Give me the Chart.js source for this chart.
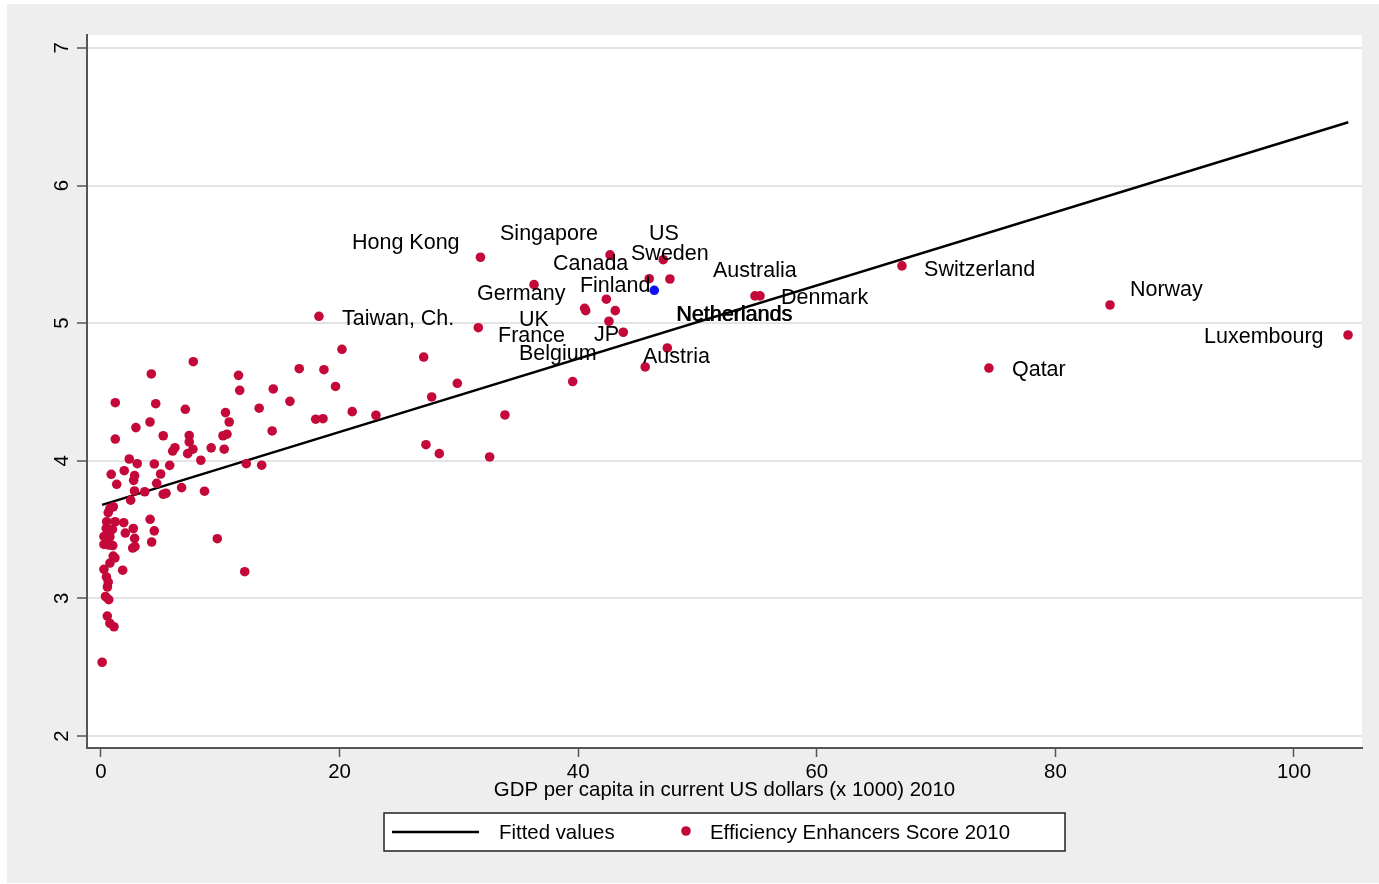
<!DOCTYPE html>
<html>
<head>
<meta charset="utf-8">
<script src="https://cdn.jsdelivr.net/npm/chart.js@4.4.1/dist/chart.umd.min.js"></script>
<style>
  html, body { margin: 0; padding: 0; background: #fff; }
  canvas { display: block; }
</style>
</head>
<body>
<canvas id="chart" width="1379" height="884"></canvas>
<script>
// GDP per capita (x 1000 US$, 2010) and Efficiency Enhancers score
const gdp = [
  31.81, 42.67, 47.13, 47.69, 45.96, 36.30, 42.36, 40.54, 40.63, 43.11,
  42.58, 43.78, 31.63, 47.47, 45.62, 39.54, 54.82, 55.24, 67.14, 74.43,
  84.58, 104.53, 18.27, 27.05, 29.87, 27.72, 27.24, 28.36, 32.58, 33.86,
  20.20, 16.62, 18.69, 19.66, 15.84, 18.00, 18.61, 21.06, 23.05, 14.44,
  14.35, 12.18, 13.47, 12.05, 9.75, 7.74, 4.22, 11.53, 11.63, 1.20,
  4.59, 7.07, 10.44, 13.26, 10.75, 4.11, 2.93, 5.22, 7.40, 1.20,
  7.40, 10.23, 10.56, 6.20, 6.01, 7.71, 7.27, 9.24, 10.33, 2.37,
  3.04, 4.47, 5.76, 8.37, 1.95, 0.86, 5.00, 2.82, 2.74, 1.32,
  4.67, 6.76, 8.68, 2.81, 3.67, 5.22, 5.45, 2.49, 0.75, 0.61,
  1.03, 0.48, 1.19, 1.91, 4.12, 0.44, 0.96, 2.71, 4.47, 2.04,
  0.25, 0.75, 2.82, 4.25, 0.25, 0.65, 0.99, 2.85, 2.66, 1.03,
  0.75, 0.25, 1.82, 0.46, 0.61, 0.54, 0.38, 0.65, 0.53, 0.75,
  1.09, 0.10, 1.17
];
const score = [
  5.479, 5.496, 5.461, 5.321, 5.323, 5.280, 5.174, 5.108, 5.091, 5.091,
  5.014, 4.934, 4.967, 4.820, 4.682, 4.576, 5.198, 5.198, 5.416, 4.674,
  5.132, 4.914, 5.050, 4.754, 4.563, 4.464, 4.117, 4.052, 4.028, 4.333,
  4.810, 4.669, 4.662, 4.540, 4.432, 4.302, 4.306, 4.357, 4.331, 4.522,
  4.217, 3.979, 3.968, 3.194, 3.434, 4.720, 4.631, 4.621, 4.512, 4.422,
  4.415, 4.374, 4.350, 4.382, 4.282, 4.282, 4.241, 4.182, 4.184, 4.158,
  4.137, 4.182, 4.193, 4.095, 4.071, 4.084, 4.052, 4.094, 4.084, 4.013,
  3.979, 3.977, 3.967, 4.004, 3.928, 3.902, 3.904, 3.892, 3.858, 3.829,
  3.836, 3.805, 3.779, 3.781, 3.775, 3.757, 3.764, 3.714, 3.653, 3.623,
  3.666, 3.557, 3.557, 3.550, 3.575, 3.509, 3.501, 3.508, 3.491, 3.475,
  3.450, 3.448, 3.437, 3.410, 3.392, 3.388, 3.384, 3.376, 3.366, 3.308,
  3.257, 3.211, 3.205, 3.156, 3.119, 3.083, 3.014, 2.991, 2.872, 2.819,
  2.794, 2.536, 3.294
];

// the one highlighted (blue) country
const highlightGdp = [46.38];
const highlightScore = [5.239];

// fitted regression line end points
const fitGdp = [0.10, 104.55];
const fitScore = [3.68, 6.46];

// country labels (left edge of text, middle of text) in data units
const labelNames = ['Hong Kong', 'Singapore', 'US', 'Sweden', 'Canada', 'Australia', 'Switzerland',
  'Finland', 'Germany', 'Denmark', 'Norway', 'Netherlands', 'Taiwan, Ch.', 'UK', 'France', 'JP',
  'Luxembourg', 'Belgium', 'Austria', 'Qatar'];
const labelGdp = [21.04, 33.45, 45.93, 44.43, 37.89, 51.30, 68.99, 40.15, 31.52, 57.00,
  86.25, 48.20, 20.20, 35.04, 33.28, 41.32, 92.46, 35.04, 45.43, 76.36];
const labelScore = [5.597, 5.663, 5.663, 5.517, 5.445, 5.394, 5.401, 5.285, 5.227, 5.198,
  5.256, 5.074, 5.045, 5.038, 4.922, 4.929, 4.914, 4.791, 4.769, 4.674];

const xTicks = [0, 20, 40, 60, 80, 100];
const yTicks = [2, 3, 4, 5, 6, 7];

const FONT = '"Liberation Sans", Arial, Helvetica, sans-serif';
const RED = '#c4083a';
const BLUE = '#1010f0';
const AXIS = '#555555';

const stataPlugin = {
  id: 'stata',
  beforeDraw(chart) {
    const { ctx, chartArea: a } = chart;
    ctx.save();
    ctx.fillStyle = '#eeeeee';
    ctx.fillRect(7, 4, chart.width - 7, 879);
    ctx.fillStyle = '#ffffff';
    ctx.fillRect(a.left, a.top, a.right - a.left, a.bottom - a.top);
    ctx.restore();
  },
  afterDraw(chart) {
    const { ctx } = chart;
    const xs = chart.scales.x, ys = chart.scales.y;
    ctx.save();
    ctx.fillStyle = '#000';

    // vertical y tick labels (read bottom to top)
    ctx.font = '20.4px ' + FONT;
    ctx.textAlign = 'center';
    ctx.textBaseline = 'alphabetic';
    yTicks.forEach(v => {
      ctx.save();
      ctx.translate(61, ys.getPixelForValue(v));
      ctx.rotate(-Math.PI / 2);
      ctx.fillText(String(v), 0, 7.3);
      ctx.restore();
    });

    // country labels
    ctx.font = '21.5px ' + FONT;
    ctx.textAlign = 'left';
    labelNames.forEach((name, i) => {
      const px = xs.getPixelForValue(labelGdp[i]);
      const py = ys.getPixelForValue(labelScore[i]) + 7.6;
      ctx.fillText(name, px, py);
      if (name === 'Netherlands') ctx.fillText(name, px + 0.8, py);
    });

    // legend box
    const fit = chart.data.datasets.find(d => d.id === 'fit');
    const pts = chart.data.datasets.find(d => d.id === 'pts');
    ctx.fillStyle = '#fff';
    ctx.fillRect(384, 813, 681, 38);
    ctx.strokeStyle = '#222';
    ctx.lineWidth = 1.5;
    ctx.strokeRect(384, 813, 681, 38);
    ctx.strokeStyle = fit.borderColor;
    ctx.lineWidth = fit.borderWidth;
    ctx.beginPath();
    ctx.moveTo(392, 832);
    ctx.lineTo(479, 832);
    ctx.stroke();
    ctx.fillStyle = pts.backgroundColor;
    ctx.beginPath();
    ctx.arc(686, 831, pts.pointRadius, 0, Math.PI * 2);
    ctx.fill();
    ctx.fillStyle = '#000';
    ctx.font = '20.4px ' + FONT;
    ctx.fillText(fit.label, 499, 839);
    ctx.fillText(pts.label, 710, 839);
    ctx.restore();
  }
};

new Chart(document.getElementById('chart'), {
  type: 'scatter',
  data: {
    datasets: [
      {
        id: 'hl', label: 'Highlighted',
        data: highlightGdp.map((x, i) => ({ x, y: highlightScore[i] })),
        backgroundColor: BLUE, borderWidth: 0, pointRadius: 4.8, order: 0
      },
      {
        id: 'pts', label: 'Efficiency Enhancers Score 2010',
        data: gdp.map((x, i) => ({ x, y: score[i] })),
        backgroundColor: RED, borderWidth: 0, pointRadius: 4.8, order: 1
      },
      {
        id: 'fit', label: 'Fitted values', type: 'line',
        data: fitGdp.map((x, i) => ({ x, y: fitScore[i] })),
        borderColor: '#000', borderWidth: 2.5, pointRadius: 0, fill: false, order: 2
      }
    ]
  },
  options: {
    responsive: false,
    animation: false,
    devicePixelRatio: 1,
    layout: { padding: { left: 7, top: 35, right: 17, bottom: 81 } },
    plugins: { legend: { display: false }, tooltip: { enabled: false } },
    scales: {
      x: {
        type: 'linear', min: -1.17, max: 105.7,
        afterBuildTicks: s => { s.ticks = xTicks.map(v => ({ value: v })); },
        afterFit: s => { s.height = 55; },
        grid: { drawOnChartArea: false, tickLength: 9, tickColor: AXIS, tickWidth: 1.5 },
        border: { color: AXIS, width: 2 },
        ticks: { color: '#000', font: { family: FONT, size: 20.4 }, padding: 3, maxRotation: 0 },
        title: { display: true, text: 'GDP per capita in current US dollars (x 1000) 2010',
          color: '#000', font: { family: FONT, size: 20.4 }, padding: 0 }
      },
      y: {
        type: 'linear', min: 1.913, max: 7.094,
        afterBuildTicks: s => { s.ticks = yTicks.map(v => ({ value: v })); },
        afterFit: s => { s.width = 80; },
        grid: { color: '#e4e4e4', lineWidth: 2, tickLength: 10, tickColor: AXIS, tickWidth: 1.5 },
        border: { color: AXIS, width: 2 },
        ticks: { display: false }
      }
    }
  },
  plugins: [stataPlugin]
});
</script>
</body>
</html>
